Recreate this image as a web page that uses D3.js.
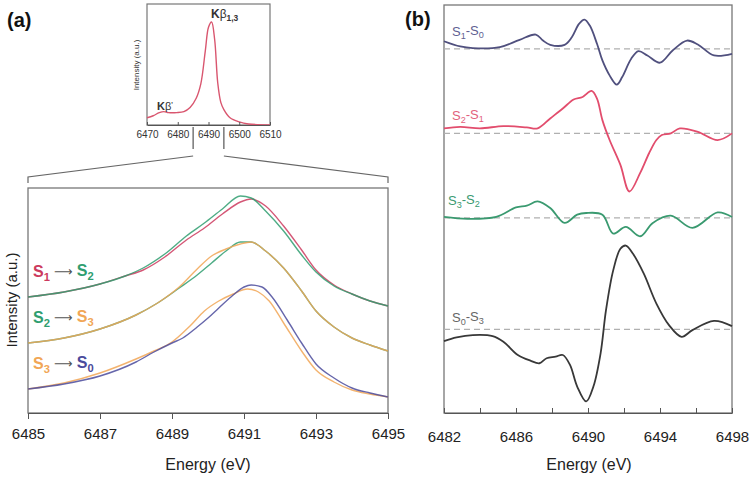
<!DOCTYPE html>
<html><head><meta charset="utf-8">
<script src="https://cdn.jsdelivr.net/npm/d3@7"></script>
<style>
body{margin:0;background:#fff}
svg{display:block}
text{font-family:"Liberation Sans",Arial,Helvetica,sans-serif}
</style>
</head><body>
<svg id="c" width="750" height="477"></svg>
<script>
// ---------------- DATA ----------------
// Inset: full K-beta spectrum (normalized)
const insetTicks = [6470, 6480, 6490, 6500, 6510];
const insetSpectrum = [[6470,0.07],[6472,0.09],[6474,0.12],[6475.5,0.13],[6477,0.12],[6479.7,0.12],[6482,0.13],[6484,0.17],[6486,0.26],[6487.5,0.40],[6489,0.73],[6490,0.95],[6491,1.0],[6492,0.83],[6493,0.41],[6494,0.22],[6495,0.15],[6497,0.07],[6500,0.03],[6503,0.01],[6510,0.0]];
const zoomRange = [6485, 6495];

// Panel (a): spectra pairs (values relative to each pair's offset)
const aTicks = [6485, 6487, 6489, 6491, 6493, 6495];
const aOffsets = [0.92, 0.46, 0];
const a1_S1 = [[6485,0.24],[6486,0.29],[6487,0.37],[6487.7,0.45],[6488.2,0.51],[6488.8,0.64],[6489.4,0.81],[6489.9,0.93],[6490.4,1.07],[6490.9,1.19],[6491.2,1.22],[6491.6,1.15],[6492.1,0.95],[6492.6,0.71],[6493,0.51],[6493.5,0.36],[6494,0.27],[6494.5,0.20],[6495,0.15]];
const a1_S2 = [[6485,0.24],[6486,0.29],[6487,0.37],[6487.7,0.45],[6488.2,0.53],[6488.8,0.67],[6489.4,0.85],[6489.9,0.98],[6490.4,1.12],[6490.9,1.25],[6491.2,1.23],[6491.6,1.10],[6492.1,0.90],[6492.6,0.66],[6493,0.49],[6493.5,0.35],[6494,0.27],[6494.5,0.20],[6495,0.15]];
const a2_S2 = [[6485,0.24],[6486,0.29],[6487,0.38],[6488,0.52],[6488.6,0.64],[6489.2,0.79],[6489.7,0.92],[6490.1,1.04],[6490.5,1.16],[6490.9,1.25],[6491.2,1.25],[6491.6,1.16],[6492.1,0.99],[6492.6,0.76],[6493,0.56],[6493.5,0.40],[6494,0.29],[6494.5,0.22],[6495,0.16]];
const a2_S3 = [[6485,0.24],[6486,0.29],[6487,0.38],[6488,0.52],[6488.6,0.64],[6489.2,0.80],[6489.7,0.98],[6490.1,1.11],[6490.5,1.18],[6490.9,1.23],[6491.2,1.25],[6491.6,1.16],[6492.1,0.99],[6492.6,0.76],[6493,0.56],[6493.5,0.40],[6494,0.29],[6494.5,0.22],[6495,0.16]];
const a3_S3 = [[6485,0.24],[6486,0.30],[6487,0.40],[6488,0.54],[6488.5,0.62],[6489,0.71],[6489.5,0.87],[6489.9,1.02],[6490.3,1.12],[6490.7,1.19],[6491.1,1.24],[6491.4,1.21],[6491.7,1.12],[6492.1,0.90],[6492.6,0.62],[6493,0.43],[6493.5,0.31],[6494,0.23],[6494.5,0.19],[6495,0.16]];
const a3_S0 = [[6485,0.24],[6486,0.29],[6487,0.37],[6488,0.51],[6488.5,0.61],[6489,0.70],[6489.3,0.75],[6489.7,0.86],[6490,0.95],[6490.3,1.05],[6490.7,1.18],[6491,1.26],[6491.2,1.28],[6491.5,1.26],[6491.8,1.15],[6492.2,0.93],[6492.6,0.70],[6493,0.49],[6493.5,0.35],[6494,0.25],[6494.5,0.20],[6495,0.16]];

// Panel (b): difference spectra
const bTicks = [6482, 6486, 6490, 6494, 6498];
const bMinorTicks = [6484, 6488, 6492, 6496];
const bOffsets = [28.2, 19.7, 11.2, 0];
const dS1S0 = [[6482,0.76],[6482.9,0.23],[6483.6,0.06],[6485.1,0.16],[6486.2,0.9],[6487.1,1.43],[6487.5,0.83],[6487.9,0.4],[6488.7,0.4],[6489.1,1.16],[6489.5,2.5],[6489.8,2.93],[6490.1,2.33],[6490.5,0.5],[6490.8,-1.17],[6491.2,-2.67],[6491.6,-3.6],[6491.9,-2.84],[6492.4,-1.0],[6492.8,-0.24],[6493.3,-0.67],[6494,-1.4],[6494.7,-0.17],[6495.5,0.83],[6496.1,0.43],[6497,-0.67],[6498,-0.5]];
const dS2S1 = [[6482,0.5],[6482.9,0.66],[6484,0.5],[6485.3,0.73],[6486.6,0.6],[6487.2,0.5],[6487.9,1.5],[6488.6,2.5],[6489.2,3.4],[6489.7,3.66],[6490.2,4.26],[6490.5,3.5],[6490.8,1.33],[6491.2,-0.67],[6491.8,-3.17],[6492.3,-5.84],[6492.9,-3.97],[6493.4,-1.97],[6493.8,-0.67],[6494.1,-0.17],[6494.6,0],[6495.1,0.5],[6496.1,0.16],[6497.2,-0.67],[6498,0]];
const dS3S2 = [[6482,0.1],[6483.3,-0.1],[6484.9,0.1],[6486,1.06],[6486.6,1.23],[6487.2,1.66],[6487.9,1.0],[6488.7,-0.5],[6489.4,0.33],[6489.9,0.5],[6490.8,0.33],[6491.4,-1.57],[6492.1,-0.9],[6492.9,-1.84],[6493.6,-0.5],[6494.6,0.23],[6495.8,-1.0],[6497.2,0.56],[6498,0.1]];
const dS0S3 = [[6482,-1.17],[6482.7,-0.8],[6483.6,-0.57],[6484.7,-0.67],[6485.3,-1.24],[6486.1,-2.57],[6486.8,-3.14],[6487.3,-3.4],[6487.7,-2.9],[6488.2,-2.74],[6488.6,-2.57],[6489,-3.57],[6489.4,-5.74],[6489.9,-7.24],[6490.3,-5.74],[6490.7,-2.4],[6491,1.93],[6491.4,5.93],[6491.8,8.1],[6492.1,8.43],[6492.5,7.6],[6493.1,5.6],[6493.8,2.6],[6494.5,0.43],[6495.2,-0.74],[6495.8,-0.07],[6497,0.86],[6498,0.33]];

// colours
const C = {S0:"#4b4b9c", S1:"#cc3a5e", S2:"#2f9e70", S3:"#f1a656"};
const bColors = ["#50507e", "#e24d6d", "#3a9a70", "#383838"];
const bLabelColors = ["#5f5f92", "#e2617c", "#3a9a70", "#666666"];

// ---------------- DRAW ----------------
const svg = d3.select("#c");
const curve = d3.curveCatmullRom.alpha(0.5);

function label(g, x, y, parts, size, weight) {
  const t = g.append("text").attr("x", x).attr("y", y)
    .attr("font-size", size).attr("font-weight", weight || "normal");
  let shifted = false;
  parts.forEach(p => {
    const ts = t.append("tspan").text(p.t).attr("fill", p.c);
    if (p.sub && !shifted) { ts.attr("dy", "0.32em").attr("font-size", size * 0.7); shifted = true; }
    else if (p.sub) { ts.attr("font-size", size * 0.7); }
    else if (p.sup) { ts.attr("dy", "-0.45em").attr("font-size", size * 0.6); shifted = "sup"; }
    else if (shifted === true) { ts.attr("dy", "-0.32em"); shifted = false; }
    else if (shifted === "sup") { ts.attr("dy", "0.45em"); shifted = false; }
    if (p.w) ts.attr("font-weight", p.w);
    if (p.s) ts.attr("font-size", p.s);
    if (p.f) ts.attr("font-family", p.f);
  });
  return t;
}

// ---- Inset ----
const xi = d3.scaleLinear().domain([6470, 6510]).range([147, 270]);
const yi = d3.scaleLinear().domain([0, 1]).range([125, 22]);
const gi = svg.append("g");
gi.append("rect").attr("x", 147).attr("y", 4).attr("width", 123).attr("height", 121)
  .attr("fill", "none").attr("stroke", "#777").attr("stroke-width", 1.2);
gi.append("path").datum(insetSpectrum)
  .attr("d", d3.line().x(d => xi(d[0])).y(d => yi(d[1])).curve(curve))
  .attr("fill", "none").attr("stroke", "#d9566f").attr("stroke-width", 1.4);
const axI = gi.append("g").attr("transform", "translate(0,125)")
  .call(d3.axisBottom(xi).tickValues(insetTicks).tickSize(-3).tickSizeOuter(0).tickPadding(6).tickFormat(d3.format("d")));
axI.select(".domain").attr("stroke", "#555");
axI.selectAll(".tick line").attr("stroke", "#555");
axI.selectAll("text").attr("font-size", 10).attr("fill", "#333").attr("font-family", "Liberation Sans, Arial");
gi.append("text").attr("transform", "translate(139,65) rotate(-90)").attr("text-anchor", "middle")
  .attr("font-size", 8).attr("fill", "#333").text("Intensity (a.u.)");
label(gi, 211, 18, [{t:"K", c:"#333"}, {t:"β", c:"#333", w:"normal"}, {t:"1,3", c:"#333", sub:true}], 12, "bold");
label(gi, 157, 110, [{t:"K", c:"#333"}, {t:"β", c:"#333", w:"normal"}, {t:"'", c:"#333", sup:true}], 11, "bold");
// zoom markers
zoomRange.forEach(e => {
  gi.append("line").attr("x1", xi(e)).attr("x2", xi(e)).attr("y1", 127).attr("y2", 149)
    .attr("stroke", "#555").attr("stroke-width", 1.2);
});

// ---- Panel (a) ----
const xa = d3.scaleLinear().domain([6485, 6495]).range([28, 388]);
const ya = d3.scaleLinear().domain([0, 2.25]).range([413, 188]);
const ga = svg.append("g");
// bracket connecting inset to zoomed panel
ga.append("path").attr("d", d3.line()([[xa(6485), 183], [xa(6485), 177], [xi(zoomRange[0]), 156]]))
  .attr("fill", "none").attr("stroke", "#666").attr("stroke-width", 1.2);
ga.append("path").attr("d", d3.line()([[xi(zoomRange[1]), 156], [xa(6495), 177], [xa(6495), 183]]))
  .attr("fill", "none").attr("stroke", "#666").attr("stroke-width", 1.2);
ga.append("rect").attr("x", 28).attr("y", 188).attr("width", 360).attr("height", 225)
  .attr("fill", "none").attr("stroke", "#777").attr("stroke-width", 1.3);
const aSeries = [
  {d: a1_S1, c: C.S1, o: aOffsets[0]}, {d: a1_S2, c: C.S2, o: aOffsets[0]},
  {d: a2_S2, c: C.S2, o: aOffsets[1]}, {d: a2_S3, c: C.S3, o: aOffsets[1]},
  {d: a3_S3, c: C.S3, o: aOffsets[2]}, {d: a3_S0, c: C.S0, o: aOffsets[2]}
];
aSeries.forEach(s => {
  ga.append("path").datum(s.d)
    .attr("d", d3.line().x(d => xa(d[0])).y(d => ya(d[1] + s.o)).curve(d3.curveMonotoneX))
    .attr("fill", "none").attr("stroke", s.c).attr("stroke-width", 1.4).attr("stroke-opacity", 0.85);
});
const axA = ga.append("g").attr("transform", "translate(0,413)")
  .call(d3.axisBottom(xa).tickValues(aTicks).tickSize(6).tickSizeOuter(0).tickPadding(9).tickFormat(d3.format("d")));
axA.select(".domain").attr("stroke", "#555");
axA.selectAll(".tick line").attr("stroke", "#555");
axA.selectAll("text").attr("font-size", 15).attr("fill", "#222").attr("font-family", "Liberation Sans, Arial");
ga.append("text").attr("x", 208).attr("y", 470).attr("text-anchor", "middle").attr("font-size", 16).attr("fill", "#222").text("Energy (eV)");
ga.append("text").attr("transform", "translate(17,300) rotate(-90)").attr("text-anchor", "middle")
  .attr("font-size", 15).attr("fill", "#222").text("Intensity (a.u.)");
const pairLabels = [
  {y: 277, a: ["S","1",C.S1], b: ["S","2",C.S2]},
  {y: 323, a: ["S","2",C.S2], b: ["S","3",C.S3]},
  {y: 369, a: ["S","3",C.S3], b: ["S","0",C.S0]}
];
pairLabels.forEach(p => {
  label(ga, 33, p.y, [
    {t:p.a[0], c:p.a[2]}, {t:p.a[1], c:p.a[2], sub:true},
    {t:" \u27F6 ", c:"#555", w:"normal", s:13, f:"DejaVu Sans"},
    {t:p.b[0], c:p.b[2]}, {t:p.b[1], c:p.b[2], sub:true}
  ], 16, "bold");
});
svg.append("text").attr("x", 7).attr("y", 27).attr("font-size", 20).attr("font-weight", "bold").attr("fill", "#111").text("(a)");

// ---- Panel (b) ----
const xb = d3.scaleLinear().domain([6482, 6498]).range([444, 732]);
const yb = d3.scaleLinear().domain([-8.4, 32.6]).range([413, 5]);
const gb = svg.append("g");
gb.append("rect").attr("x", 444).attr("y", 5).attr("width", 288).attr("height", 408)
  .attr("fill", "none").attr("stroke", "#777").attr("stroke-width", 1.3);
const bSeries = [dS1S0, dS2S1, dS3S2, dS0S3];
bSeries.forEach((s, i) => {
  gb.append("line").attr("x1", xb(6482)).attr("x2", xb(6498)).attr("y1", yb(bOffsets[i])).attr("y2", yb(bOffsets[i]))
    .attr("stroke", "#b0b0b0").attr("stroke-width", 1.2).attr("stroke-dasharray", "6,4");
});
bSeries.forEach((s, i) => {
  gb.append("path").datum(s)
    .attr("d", d3.line().x(d => xb(d[0])).y(d => yb(d[1] + bOffsets[i])).curve(curve))
    .attr("fill", "none").attr("stroke", bColors[i]).attr("stroke-width", 1.8);
});
const axB = gb.append("g").attr("transform", "translate(0,413)")
  .call(d3.axisBottom(xb).tickValues(bTicks.concat(bMinorTicks)).tickSize(-5).tickSizeOuter(0).tickPadding(18)
    .tickFormat(d => bTicks.includes(d) ? d3.format("d")(d) : ""));
axB.select(".domain").attr("stroke", "#555");
axB.selectAll(".tick line").attr("stroke", "#555");
axB.selectAll("text").attr("font-size", 15).attr("fill", "#222").attr("font-family", "Liberation Sans, Arial");
gb.append("text").attr("x", 589).attr("y", 470).attr("text-anchor", "middle").attr("font-size", 16).attr("fill", "#222").text("Energy (eV)");
const bLabels = [
  {y: 36, p: ["1","0"]}, {y: 120, p: ["2","1"]}, {y: 205, p: ["3","2"]}, {y: 322, p: ["0","3"]}
];
bLabels.forEach((l, i) => {
  const c = bLabelColors[i];
  label(gb, i === 2 ? 448 : 452, l.y, [{t:"S", c}, {t:l.p[0], c, sub:true}, {t:"-S", c}, {t:l.p[1], c, sub:true}], 13, "normal");
});
svg.append("text").attr("x", 405).attr("y", 26).attr("font-size", 20).attr("font-weight", "bold").attr("fill", "#111").text("(b)");
</script>
</body></html>
